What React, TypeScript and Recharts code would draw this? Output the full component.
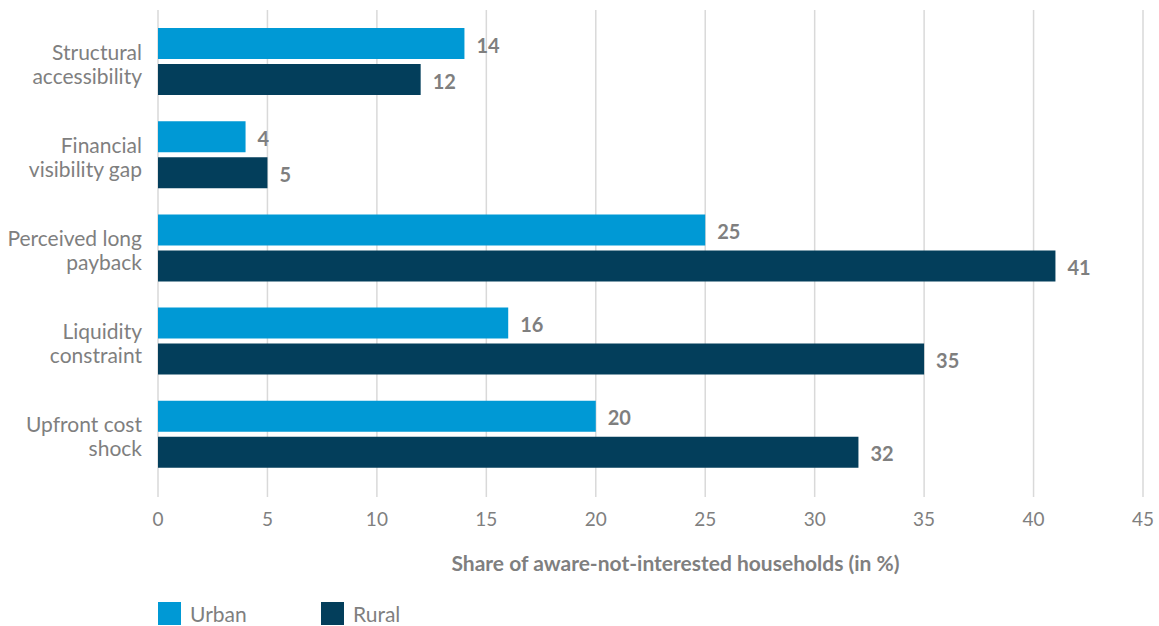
import React from "react";
import {
  BarChart,
  Bar,
  XAxis,
  YAxis,
  CartesianGrid,
  LabelList,
  Label,
} from "recharts";

const categories = [
  ["Structural", "accessibility"],
  ["Financial", "visibility gap"],
  ["Perceived long", "payback"],
  ["Liquidity", "constraint"],
  ["Upfront cost", "shock"],
];
const urban = [14, 4, 25, 16, 20];
const rural = [12, 5, 41, 35, 32];
const xTicks = [0, 5, 10, 15, 20, 25, 30, 35, 40, 45];

const data = categories.map((lines, i) => ({
  name: lines.join(" "),
  lines,
  urban: urban[i],
  rural: rural[i],
}));

const FONT = "Lato, 'Noto Sans', sans-serif";
const GREY = "#7f7f7f";
const URBAN = "#0099d5";
const RURAL = "#033e5b";

function CategoryTick(props: any) {
  const { x, y, payload } = props;
  const lines: string[] = categories[payload.index] || [payload.value];
  return (
    <g>
      {lines.map((t, i) => (
        <text
          key={i}
          x={x}
          y={y - 2 + i * 24}
          textAnchor="end"
          fill={GREY}
          fontSize={21}
          fontFamily={FONT}
        >
          {t}
        </text>
      ))}
    </g>
  );
}

export default function App() {
  return (
    <div style={{ position: "absolute", left: 0, top: 0, width: 1159, height: 626 }}>
      <BarChart
        width={1159}
        height={626}
        data={data}
        layout="vertical"
        margin={{ top: 10, right: 16, bottom: 75, left: 0 }}
        barCategoryGap={13}
        barGap={5}
      >
        <CartesianGrid horizontal={false} stroke="#d9d9d9" strokeWidth={1.5} />
        <XAxis
          type="number"
          domain={[0, 45]}
          ticks={xTicks}
          axisLine={false}
          tickLine={{ stroke: "#d9d9d9", strokeWidth: 1.5 }}
          tickSize={16}
          tickMargin={16}
          height={70}
          tick={{ fill: GREY, fontSize: 19, fontFamily: FONT }}
        >
          <Label
            value="Share of aware-not-interested households (in %)"
            position="bottom"
            offset={5}
            dx={25}
            fill={GREY}
            fontSize={21}
            fontWeight="bold"
            fontFamily={FONT}
          />
        </XAxis>
        <YAxis
          type="category"
          dataKey="name"
          width={158}
          axisLine={false}
          tickLine={false}
          tickSize={0}
          tickMargin={16}
          interval={0}
          padding={{ top: 5, bottom: 0 }}
          tick={<CategoryTick />}
        />
        <Bar dataKey="urban" fill={URBAN} isAnimationActive={false}>
          <LabelList
            dataKey="urban"
            position="right"
            offset={12}
            dy={2}
            fill={GREY}
            fontSize={20}
            fontWeight="bold"
            fontFamily={FONT}
          />
        </Bar>
        <Bar dataKey="rural" fill={RURAL} isAnimationActive={false}>
          <LabelList
            dataKey="rural"
            position="right"
            offset={12}
            dy={2}
            fill={GREY}
            fontSize={20}
            fontWeight="bold"
            fontFamily={FONT}
          />
        </Bar>
      </BarChart>
      <div
        style={{
          position: "absolute",
          left: 158,
          top: 601,
          display: "flex",
          alignItems: "center",
          fontFamily: FONT,
          fontSize: 21,
          color: GREY,
        }}
      >
        <span style={{ width: 23, height: 23, background: URBAN, display: "inline-block" }} />
        <span style={{ marginLeft: 9, width: 131 }}>Urban</span>
        <span style={{ width: 23, height: 23, background: RURAL, display: "inline-block" }} />
        <span style={{ marginLeft: 9 }}>Rural</span>
      </div>
    </div>
  );
}
